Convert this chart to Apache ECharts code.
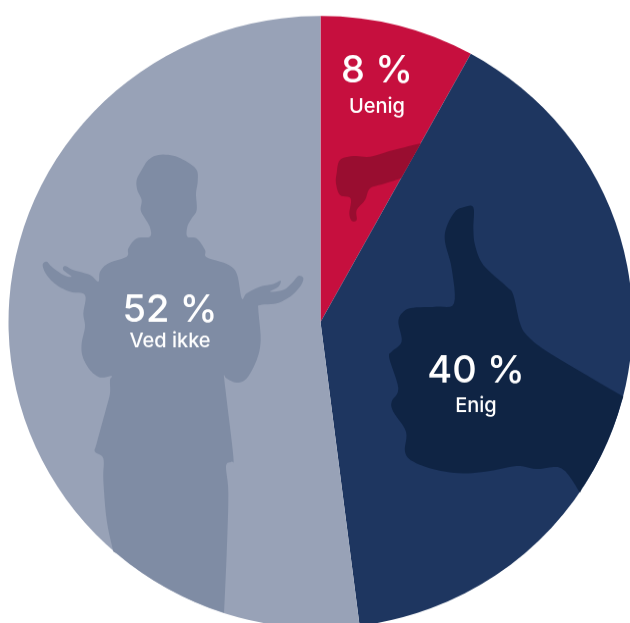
<!DOCTYPE html>
<html><head><meta charset="utf-8">
<style>html,body{margin:0;padding:0;background:#fff;overflow:hidden;width:630px;height:623px}
#c{width:630px;height:635px;transform:scaleY(0.981);transform-origin:0 0}</style>
<script src="https://cdn.jsdelivr.net/npm/echarts@6/dist/echarts.min.js"></script>
</head><body><div id="c"></div>
<script>
const categories = ['Uenig','Enig','Ved ikke'];
const values = [8,40,52];
const sliceColors = ['#C60F3E','#1E3660','#98A2B7'];
const S = 0.981, CX = 320.5, CY = 322, RX = 312, RY = 306;
const labelCenters = [[377,71,107],[476,371,406],[170,310,341]];
function z(off,pts){return pts.map(p=>[off[0]+p[0]/3,off[1]+p[1]/3]);}
function spline(p){const o=[];for(let i=0;i<p.length-1;i++){const a=p[Math.max(i-1,0)],b=p[i],c=p[i+1],d=p[Math.min(i+2,p.length-1)];
  for(let k=0;k<6;k++){const t=k/6,t2=t*t,t3=t2*t;
    o.push([0,1].map(j=>0.5*(2*b[j]+(c[j]-a[j])*t+(2*a[j]-5*b[j]+4*c[j]-d[j])*t2+(3*b[j]-a[j]-3*c[j]+d[j])*t3)));}}
  o.push(p[p.length-1]);return o;}
function arc(A,B){let a=Math.atan2((A[1]-CY)/RY,(A[0]-CX)/RX),b=Math.atan2((B[1]-CY)/RY,(B[0]-CX)/RX);if(b<a)b+=2*Math.PI;const o=[];
  for(let i=1;i<24;i++){const t=a+(b-a)*i/24;o.push([CX+RX*0.999*Math.cos(t),CY+RY*0.999*Math.sin(t)]);}return o;}
const personOutline = z([90,380],[[70,515],[50,420],[40,300],[40,235],[15,215],[20,190],[50,80],[60,40],[60,0]])
 .concat(z([30,140],[[245,708],[210,712],[180,690],[158,650],[155,610],[165,560],[160,520],[165,465],[120,455],[80,435],[50,405],[38,375],[50,365],[65,380],[100,405],[125,410],[100,390],[105,378],[130,390],[180,405],[205,425],[210,395],[235,370],[290,350],[295,325],[320,295],[360,290],[360,262],[345,235],[332,210],[335,180],[322,150],[320,120],[335,90],[355,60],[385,45],[430,47],[470,65],[500,90],[503,125],[498,160],[500,210],[485,235],[472,260],[472,290],[500,295],[525,330],[530,352],[590,372],[620,400],[635,475],[650,460],[690,440],[730,432],[752,422],[745,440],[720,455],[760,450],[785,430],[805,408],[820,415],[810,440],[780,470],[740,490],[690,495],[685,510],[692,600],[680,660],[650,715],[620,728],[590,715],[582,705]]))
 .concat(z([90,380],[[403,0],[410,60],[430,230],[425,245],[408,258],[415,340],[410,520],[402,698]]));
const thumbUpOutline = z([380,195],[[600,893],[545,820],[470,822],[410,813],[330,828],[250,835],[170,825],[100,800],[75,770],[78,710],[40,650],[35,620],[55,580],[28,490],[35,470],[65,440],[55,380],[70,350],[100,338],[170,335],[222,325],[215,220],[195,140],[200,95],[225,50],[250,37],[280,37],[280,100],[285,150],[310,210],[380,275],[400,300],[420,385],[445,425],[510,475],[730,605]]);
const thumbDownOutline = z([320,10],[[243,505],[190,522],[150,535],[135,570],[110,600],[110,630],[95,632],[88,610],[92,565],[60,555],[48,520],[50,490],[60,450],[100,438],[150,440],[220,420],[303,400]]);
function closed(o){const s=spline(o);return s.concat(arc(o[o.length-1],o[0]));}
const font = 'Inter, Lato, sans-serif';
const texts = [];
categories.forEach((n,i)=>{
  const [x,y1,y2]=labelCenters[i];
  texts.push({type:'text',z:10,x:x,y:y1,style:{text:values[i]+' %',fill:'#fff',font:'500 38px '+font,align:'center',verticalAlign:'middle'}});
  texts.push({type:'text',z:10,x:x,y:y2,style:{text:n,fill:'#fff',font:'500 20px '+font,align:'center',verticalAlign:'middle'}});
});
const chart = echarts.init(document.getElementById('c'),null,{renderer:'canvas'});
chart.setOption({
  animation:false,
  series:[{type:'pie',silent:true,startAngle:90,clockwise:true,center:[CX,CY/S],radius:[0,RX],
    label:{show:false},labelLine:{show:false},
    data:categories.map((n,i)=>({name:n,value:values[i],itemStyle:{color:sliceColors[i]}}))}],
  graphic:[{type:'group',x:0,y:0,scaleY:1/S,originY:0,children:[
    {type:'polygon',z:5,silent:true,shape:{points:closed(personOutline)},style:{fill:'#7F8CA4'}},
    {type:'polygon',z:5,silent:true,shape:{points:closed(thumbUpOutline)},style:{fill:'#0F2444'}},
    {type:'polygon',z:5,silent:true,shape:{points:spline(thumbDownOutline)},style:{fill:'#990D30'}},
    ...texts]}]
});
</script></body></html>
